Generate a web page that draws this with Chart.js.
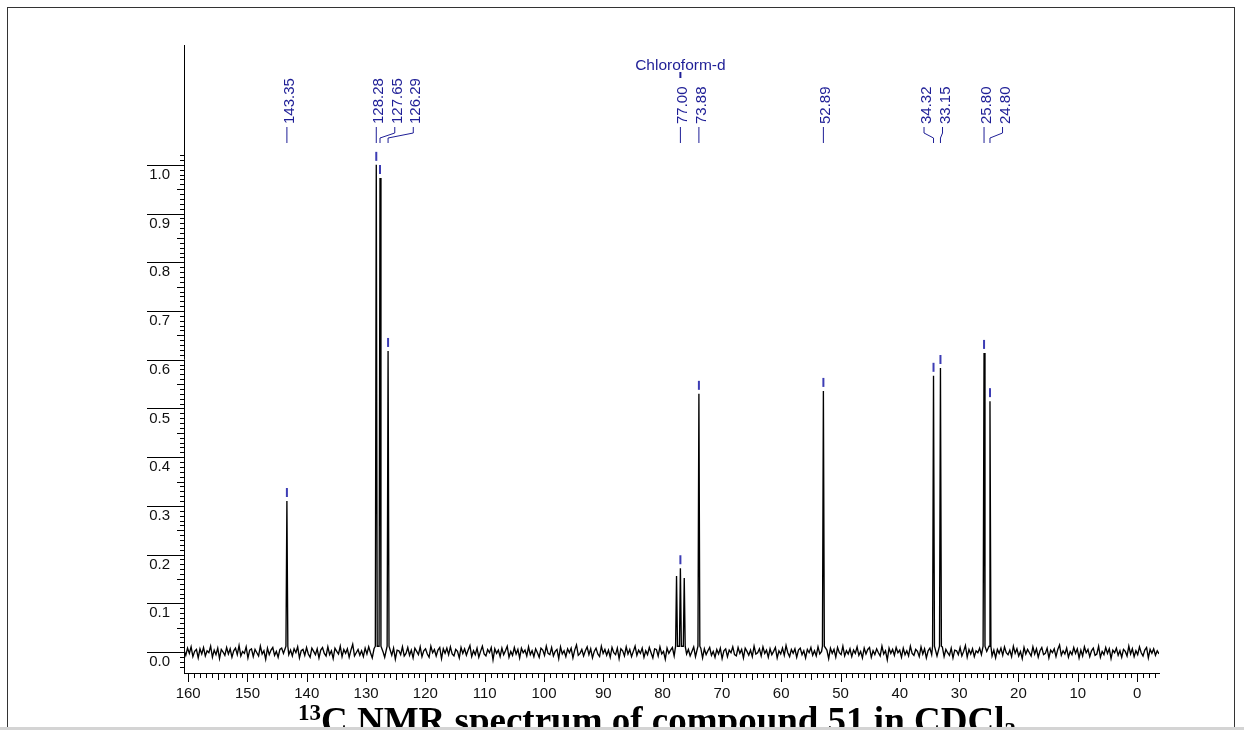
<!DOCTYPE html>
<html>
<head>
<meta charset="utf-8">
<script src="https://cdn.jsdelivr.net/npm/chart.js@4.4.0/dist/chart.umd.min.js"></script>
<style>
html,body{margin:0;padding:0;background:#fff;overflow:hidden;width:1244px;height:730px}
#wrap{position:relative;width:1244px;height:730px;overflow:hidden}
#frame{position:absolute;left:7px;top:7px;width:1228px;height:760px;border:1px solid #333;box-sizing:border-box}
#c{position:absolute;left:0;top:0}
#title{position:absolute;left:298px;top:701.5px;font:bold 37px "Liberation Serif","Times New Roman",serif;line-height:1;white-space:nowrap;color:#000}
#title sup{font-size:0.62em;position:relative;top:-0.55em;vertical-align:baseline}
#title sub{font-size:0.62em;position:relative;top:0.25em;vertical-align:baseline}
#bottomline{position:absolute;left:0;top:727px;width:1244px;height:3px;background:#d4d4d4}
</style>
</head>
<body>
<div id="wrap">
<div id="frame"></div>
<canvas id="c" width="1244" height="730"></canvas>
<div id="title"><sup>13</sup>C NMR spectrum of compound 51 in CDCl<sub>3</sub></div>
<div id="bottomline"></div>
</div>
<script>
// ---- data ----
const ppmMax = 160.7;
const ppmMin = -3.7;
const peakPpm    = [143.35, 128.28, 127.65, 126.29, 77.65, 77.00, 76.35, 73.88, 52.89, 34.32, 33.15, 25.80, 24.80];
const peakHeight = [0.310, 1.000, 0.973, 0.618, 0.156, 0.172, 0.152, 0.530, 0.536, 0.567, 0.583, 0.614, 0.515];
const peakLabel  = ['143.35','128.28','127.65','126.29','','77.00','','73.88','52.89','34.32','33.15','25.80','24.80'];
const solventName = 'Chloroform-d';
const solventLabel = '77.00';
const xTickValues = [160,150,140,130,120,110,100,90,80,70,60,50,40,30,20,10,0];
const xTickLabels = ['160','150','140','130','120','110','100','90','80','70','60','50','40','30','20','10','0'];
const yTickValues = [0,0.1,0.2,0.3,0.4,0.5,0.6,0.7,0.8,0.9,1.0];
const yTickLabels = ['0.0','0.1','0.2','0.3','0.4','0.5','0.6','0.7','0.8','0.9','1.0'];
// baseline noise, thousandths (read left to right, 160.7 ppm -> -3.7 ppm)
const baselineNoise = [
3,-5,6,-2,8,-7,1,4,-9,5,-3,7,-6,2,-1,9,-8,3,-4,6,-10,4,0,-5,7,
-3,5,-8,2,6,-4,10,-6,1,-2,8,-9,3,5,-7,4,-1,-6,9,-3,2,-11,6,-4,3,
7,-5,1,-8,4,6,-2,-7,11,-4,3,-6,5,-1,8,-9,2,4,-5,7,-3,-8,6,1,-4,
5,-9,3,7,-2,-6,8,-4,2,-10,6,1,-3,9,-7,4,-2,5,-8,3,12,-6,-1,4,-5,
2,-7,6,-3,8,-1,-9,5,3,-6,7,-4,1,-8,10,-2,4,-5,6,-11,3,2,-4,8,-6,
-2,7,-5,3,-9,6,1,-4,8,-7,2,5,-3,-8,9,-1,4,-6,3,7,-10,5,-2,6,-4,
8,-3,-6,4,1,-9,7,-2,5,-5,3,10,-7,2,-4,6,-8,1,9,-3,-6,4,-1,7,-12,
5,-2,3,-7,6,-4,2,9,-8,1,-5,7,-3,4,-9,6,-1,3,-6,8,-4,2,-7,5,-1,
-8,6,3,-5,9,-2,-4,7,-6,1,4,-10,8,-3,2,-7,5,-1,6,-9,3,11,-5,-2,4,
-6,2,8,-4,5,-9,1,6,-3,-7,9,-2,4,-5,3,-8,7,-1,-4,6,-10,5,2,-6,8,
-3,4,-7,1,9,-5,3,-2,6,-8,2,-4,7,-1,-9,5,4,-6,8,-3,1,-11,6,-2,3,
7,-6,2,-4,5,-1,-8,9,-3,4,-6,1,8,-7,3,-2,6,-9,5,-4,2,7,-5,1,-8,
4,-3,6,-10,2,5,-7,3,-1,8,-4,-6,7,-2,4,-9,6,1,-5,3,-7,9,-3,-1,5,
-6,8,-2,3,-8,5,-4,1,7,-9,2,-3,6,-5,10,-1,-7,4,-2,5,-8,3,6,-4,2,
-9,4,-1,7,-5,2,-6,8,-3,1,-7,5,3,-10,6,-2,4,-8,7,-1,-4,9,-6,2,-3,
5,-7,3,-2,8,-5,1,-9,6,-3,4,7,-8,2,-4,5,-1,-6,9,-3,2,-12,6,-2,4,
-5,7,-1,3,-8,6,-4,2,-6,9,-2,-5,4,1,-7,8,-3,5,-9,2,6,-4,-1,7,-6,
3,-2,8,-7,4,-1,-5,6,-9,3,2,-4,7,-6,1,10,-8,4,-3,5,-7,2,-1,6,-4,
-8,5,1,-3,7,-6,3,-9,4,-2,6,-5,8,-1,-4,3,-7,9,-2,5,-6,1,-10,7,-3,
4,-1,-6,8,-3,5,-8,2,7,-4,-2,6,-9,3,-1,5,-7,4,11,-5,2,-3,6,-8,1,
-4,7,-2,5,-9,3,-6,8,-1,4,-7,2,6,-5,-3,9,-8,1,-4,7,-2,5,-10,3,-1,
6,-5,2,-8,4,1,-6,9,-3,5,-7,2,-4,8,-1,-6,3,7,-9,4,-2,5,-5,2,-3
];

// ---- build spectrum points ----
const noiseUnit = 750;
const pts = [];
const nN = baselineNoise.length;
for (let i = 0; i < nN; i++) {
  const xv = ppmMax - i * (ppmMax - ppmMin) / (nN - 1);
  if (peakPpm.some(p => Math.abs(p - xv) < 0.3)) continue;
  pts.push({x: xv, y: baselineNoise[i] / noiseUnit});
}
peakPpm.forEach((p, k) => {
  pts.push({x: p + 0.16, y: 0.012}, {x: p, y: peakHeight[k]}, {x: p - 0.16, y: 0.012});
});
pts.sort((a, b) => b.x - a.x);

// ---- layout / style ----
const BLUE = '#1e1e96';
const MARK = '#3c3cb4';
const labelGap = 18.5;
const labelNudge = {'34.32': -9.5, '33.15': -9.5};
const target = {left: 184, right: 1159, top: 45, bottom: 673};

const decor = {
  id: 'decor',
  afterDraw(chart) {
    const {ctx, chartArea: a, scales: {x, y}} = chart;
    ctx.save();
    ctx.strokeStyle = '#000';
    ctx.lineWidth = 1;
    yTickValues.forEach(v => {
      const py = Math.round(y.getPixelForValue(v)) + 0.5;
      ctx.beginPath(); ctx.moveTo(a.left - 37, py); ctx.lineTo(a.left, py); ctx.stroke();
    });
    for (let k = -3; k <= 102; k++) {
      const py = Math.round(y.getPixelForValue(k / 100)) + 0.5;
      const len = (k % 5 === 0) ? 7 : 4;
      ctx.beginPath(); ctx.moveTo(a.left - len, py); ctx.lineTo(a.left, py); ctx.stroke();
    }
    for (let p = 160; p >= -3; p--) {
      const px = Math.round(x.getPixelForValue(p)) + 0.5;
      const len = (p % 10 === 0) ? 9 : ((p % 5 === 0) ? 7 : 5);
      ctx.beginPath(); ctx.moveTo(px, a.bottom); ctx.lineTo(px, a.bottom + len); ctx.stroke();
    }
    const labeled = [];
    peakPpm.forEach((p, i) => { if (peakLabel[i]) labeled.push({p, h: peakHeight[i], t: peakLabel[i]}); });
    labeled.forEach(o => { o.px = x.getPixelForValue(o.p); o.lx = o.px; });
    labeled.sort((m, n) => m.px - n.px);
    for (let i = 1; i < labeled.length; i++) {
      if (labeled[i].lx - labeled[i - 1].lx < labelGap - 0.6) labeled[i].lx = labeled[i - 1].lx + labelGap;
    }
    labeled.forEach(o => { if (labelNudge[o.t]) o.lx += labelNudge[o.t]; });
    ctx.font = '15px "Liberation Sans", Arial, sans-serif';
    labeled.forEach(o => {
      ctx.strokeStyle = BLUE; ctx.lineWidth = 1;
      ctx.beginPath();
      if (Math.abs(o.lx - o.px) < 1) {
        ctx.moveTo(o.px, 143); ctx.lineTo(o.px, 127);
      } else {
        ctx.moveTo(o.px, 143); ctx.lineTo(o.px, 138); ctx.lineTo(o.lx, 133); ctx.lineTo(o.lx, 127);
      }
      ctx.stroke();
      ctx.save();
      ctx.translate(o.lx + 7, 124);
      ctx.rotate(-Math.PI / 2);
      ctx.fillStyle = BLUE; ctx.textAlign = 'left'; ctx.textBaseline = 'alphabetic';
      ctx.fillText(o.t, 0, 0);
      ctx.restore();
      const py = y.getPixelForValue(o.h);
      ctx.strokeStyle = MARK; ctx.lineWidth = 2;
      ctx.beginPath(); ctx.moveTo(o.px, py - 13); ctx.lineTo(o.px, py - 4); ctx.stroke();
      if (o.t === solventLabel) {
        ctx.fillStyle = BLUE; ctx.textAlign = 'center'; ctx.textBaseline = 'middle';
        ctx.font = '15.5px "Liberation Sans", Arial, sans-serif';
        ctx.fillText(solventName, o.lx, 66);
        ctx.font = '15px "Liberation Sans", Arial, sans-serif';
        ctx.strokeStyle = BLUE; ctx.lineWidth = 2;
        ctx.beginPath(); ctx.moveTo(o.lx, 72); ctx.lineTo(o.lx, 78); ctx.stroke();
      }
    });
    ctx.restore();
  }
};

const tickFont = {family: '"Liberation Sans", Arial, sans-serif', size: 15};
const chart = new Chart(document.getElementById('c'), {
  type: 'line',
  data: {datasets: [{data: pts, borderColor: '#000', borderWidth: 1.35, pointRadius: 0, tension: 0, fill: false}]},
  options: {
    responsive: false, animation: false, devicePixelRatio: 1,
    parsing: false, normalized: true,
    layout: {padding: {left: 0, right: 1244 - target.right, top: target.top, bottom: 0}},
    plugins: {legend: {display: false}, tooltip: {enabled: false}, title: {display: false}},
    scales: {
      x: {
        type: 'linear', reverse: true, min: ppmMin, max: ppmMax,
        afterBuildTicks: s => { s.ticks = xTickValues.map(v => ({value: v})); },
        afterFit: s => { s.height = 730 - target.bottom; },
        grid: {display: false, drawTicks: false},
        border: {display: true, color: '#000', width: 1},
        ticks: {autoSkip: false, maxRotation: 0, minRotation: 0, padding: 12, color: '#111', font: tickFont,
                callback: (v, i) => xTickLabels[i]}
      },
      y: {
        type: 'linear', min: -0.043, max: 1.246,
        afterBuildTicks: s => { s.ticks = yTickValues.map(v => ({value: v})); },
        afterFit: s => { s.width = target.left; },
        grid: {display: false, drawTicks: false},
        border: {display: true, color: '#000', width: 1},
        ticks: {autoSkip: false, padding: 14, labelOffset: 10, color: '#111', font: tickFont,
                callback: (v, i) => yTickLabels[i]}
      }
    }
  },
  plugins: [decor]
});
const ca = chart.chartArea;
const pad = chart.options.layout.padding;
pad.top -= (ca.top - target.top);
pad.right += (ca.right - target.right);
if (Math.abs(ca.bottom - target.bottom) > 0.5) pad.bottom -= (target.bottom - ca.bottom);
chart.update();
</script>
</body>
</html>
